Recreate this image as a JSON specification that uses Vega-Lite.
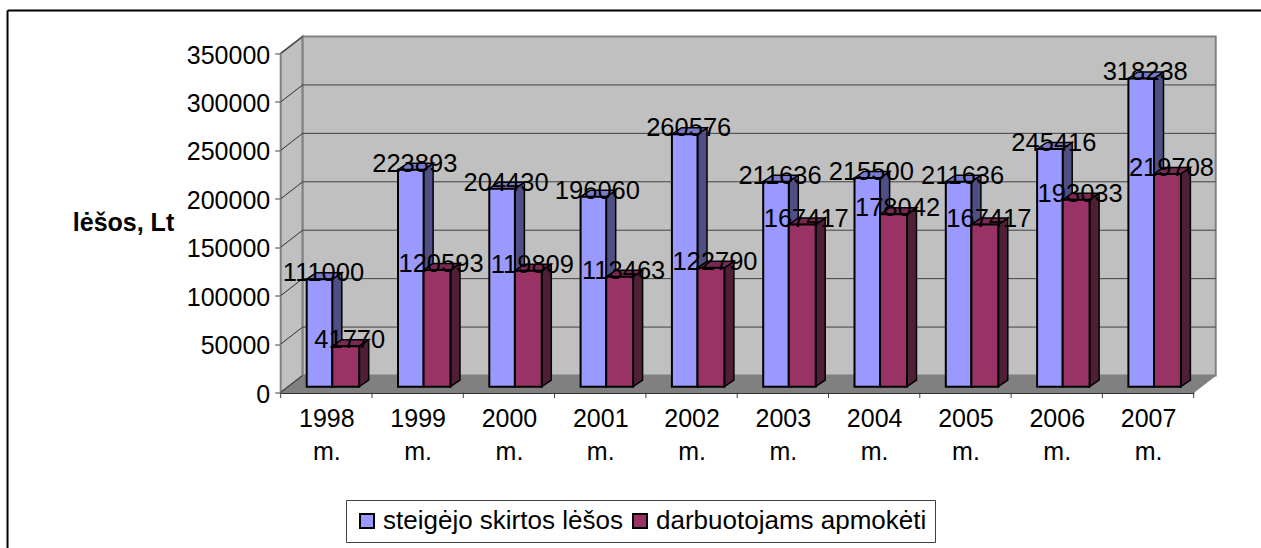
{
"$schema":"https://vega.github.io/schema/vega-lite/v6.json",
"width":913,"height":339,
"autosize":{"type":"none"},
"padding":{"left":280.7,"top":53.5,"right":67.3,"bottom":155.5},
"background":"white",
"config":{"view":{"stroke":null},"text":{"font":"Liberation Sans"},"axis":{"labelFont":"Liberation Sans","titleFont":"Liberation Sans"},"legend":{"labelFont":"Liberation Sans"}},
"datasets":{
"bars":[
{"year":1998,"series":"steigėjo skirtos lėšos","value":111000},{"year":1998,"series":"darbuotojams apmokėti","value":41770},
{"year":1999,"series":"steigėjo skirtos lėšos","value":223893},{"year":1999,"series":"darbuotojams apmokėti","value":120593},
{"year":2000,"series":"steigėjo skirtos lėšos","value":204430},{"year":2000,"series":"darbuotojams apmokėti","value":119809},
{"year":2001,"series":"steigėjo skirtos lėšos","value":196060},{"year":2001,"series":"darbuotojams apmokėti","value":113463},
{"year":2002,"series":"steigėjo skirtos lėšos","value":260576},{"year":2002,"series":"darbuotojams apmokėti","value":122790},
{"year":2003,"series":"steigėjo skirtos lėšos","value":211636},{"year":2003,"series":"darbuotojams apmokėti","value":167417},
{"year":2004,"series":"steigėjo skirtos lėšos","value":215500},{"year":2004,"series":"darbuotojams apmokėti","value":178042},
{"year":2005,"series":"steigėjo skirtos lėšos","value":211636},{"year":2005,"series":"darbuotojams apmokėti","value":167417},
{"year":2006,"series":"steigėjo skirtos lėšos","value":245416},{"year":2006,"series":"darbuotojams apmokėti","value":193033},
{"year":2007,"series":"steigėjo skirtos lėšos","value":318238},{"year":2007,"series":"darbuotojams apmokėti","value":219708}
],
"grid":[{"v":0},{"v":50000},{"v":100000},{"v":150000},{"v":200000},{"v":250000},{"v":300000},{"v":350000}],
"leftWall":[{"x":1997.5,"lo":0,"hi":350000},{"x":1997.741,"lo":17550,"hi":367550}],
"floor":[{"y":0,"a":1997.5,"b":2007.5},{"y":17550,"a":1997.741,"b":2007.741}],
"back":[{"a":1997.741,"b":2007.741,"lo":17550,"hi":367550}],
"ticks":[{"x":1997.5},{"x":1998.5},{"x":1999.5},{"x":2000.5},{"x":2001.5},{"x":2002.5},{"x":2003.5},{"x":2004.5},{"x":2005.5},{"x":2006.5},{"x":2007.5}]
},
"data":{"name":"bars"},
"transform":[
{"calculate":"[0,1]","as":"t"},{"flatten":["t"]},
{"calculate":"datum.series==='steigėjo skirtos lėšos'","as":"isA"},
{"calculate":"datum.year-0.5+(datum.isA?26:51.6)/91.3","as":"xl"},
{"calculate":"datum.year-0.5+(datum.isA?51.6:78.5)/91.3","as":"xr"},
{"calculate":"datum.value+6000","as":"top"},
{"calculate":"datum.xr+datum.t*0.104","as":"sx"},
{"calculate":"datum.xl+datum.t*0.104","as":"tl"},
{"calculate":"datum.top+datum.t*6700","as":"sy"},
{"calculate":"6000+datum.t*6700","as":"sb"},
{"calculate":"(datum.xl+datum.xr)/2+4/91.3","as":"lx"}
],
"layer":[
{"data":{"name":"leftWall"},"mark":{"type":"area","fill":"#C0C0C0","stroke":"#808080","strokeWidth":2,"clip":false},
 "encoding":{"x":{"field":"x","type":"quantitative","scale":{"domain":[1997.5,2007.5],"nice":false,"zero":false},
   "axis":{"values":[1998,1999,2000,2001,2002,2003,2004,2005,2006,2007],"format":"d","grid":false,"ticks":false,"domain":true,"domainColor":"#303030","domainWidth":2,"title":null,"labelFontSize":25,"labelColor":"black","labelPadding":14,"labelExpr":"[datum.label,'m.']","labelLineHeight":33,"labelOverlap":false,"labelFlush":false}},
 "y":{"field":"lo","type":"quantitative","scale":{"domain":[0,350000],"nice":false,"zero":false},
   "axis":{"values":[0,50000,100000,150000,200000,250000,300000,350000],"format":"d","grid":false,"domainColor":"#505050","domainWidth":2,"tickColor":"#404040","tickSize":6,"labelFontSize":25,"labelColor":"black","labelPadding":5,"labelOffset":1.5,"title":"lėšos, Lt","titleAngle":0,"titleFontSize":25,"titleFontWeight":"bold","titleX":-157.7,"titleY":177,"titleColor":"black","titleAlign":"center","titleBaseline":"alphabetic"}},"y2":{"field":"hi"}}},
{"data":{"name":"back"},"mark":{"type":"rect","fill":"#C0C0C0","stroke":"#808080","strokeWidth":2,"clip":false},
 "encoding":{"x":{"field":"a","type":"quantitative"},"x2":{"field":"b"},"y":{"field":"lo","type":"quantitative"},"y2":{"field":"hi"}}},
{"data":{"name":"floor"},"mark":{"type":"area","orient":"horizontal","fill":"#808080","stroke":"#808080","clip":false},
 "encoding":{"y":{"field":"y","type":"quantitative"},"x":{"field":"a","type":"quantitative"},"x2":{"field":"b"}}},
{"data":{"name":"grid"},"transform":[{"filter":"datum.v>0&&datum.v<350000"},{"calculate":"datum.v+17550","as":"vb"}],"mark":{"type":"rule","color":"#404040","strokeWidth":1,"clip":false},
 "encoding":{"x":{"datum":1997.741,"type":"quantitative"},"x2":{"datum":2007.741},"y":{"field":"vb","type":"quantitative"}}},
{"data":{"name":"grid"},"transform":[{"calculate":"datum.v+17550","as":"vb"}],"mark":{"type":"rule","color":"#303030","strokeWidth":1,"clip":false},
 "encoding":{"x":{"datum":1997.5,"type":"quantitative"},"x2":{"datum":1997.741},"y":{"field":"v","type":"quantitative"},"y2":{"field":"vb"}}},
{"data":{"name":"ticks"},"mark":{"type":"rule","color":"#404040","strokeWidth":1,"clip":false},
 "encoding":{"x":{"field":"x","type":"quantitative"},"y":{"datum":0,"type":"quantitative"},"y2":{"datum":-5800}}},
{"transform":[{"filter":"datum.isA"}],"mark":{"type":"area","fill":"#4F4F85","stroke":"black","strokeWidth":1.5,"clip":false},
 "encoding":{"x":{"field":"sx","type":"quantitative"},"y":{"field":"sy","type":"quantitative"},"y2":{"field":"sb"},"detail":{"field":"year"}}},
{"transform":[{"filter":"datum.isA"}],"mark":{"type":"area","orient":"horizontal","fill":"#7A7ACC","stroke":"black","strokeWidth":1.5,"clip":false},
 "encoding":{"y":{"field":"sy","type":"quantitative"},"x":{"field":"tl","type":"quantitative"},"x2":{"field":"sx"},"detail":{"field":"year"}}},
{"transform":[{"filter":"!datum.isA"}],"mark":{"type":"area","fill":"#4F1E37","stroke":"black","strokeWidth":1.5,"clip":false},
 "encoding":{"x":{"field":"sx","type":"quantitative"},"y":{"field":"sy","type":"quantitative"},"y2":{"field":"sb"},"detail":{"field":"year"}}},
{"transform":[{"filter":"!datum.isA"}],"mark":{"type":"area","orient":"horizontal","fill":"#7A2952","stroke":"black","strokeWidth":1.5,"clip":false},
 "encoding":{"y":{"field":"sy","type":"quantitative"},"x":{"field":"tl","type":"quantitative"},"x2":{"field":"sx"},"detail":{"field":"year"}}},
{"transform":[{"filter":"datum.t===0"}],"mark":{"type":"rect","stroke":"black","strokeWidth":2,"clip":false},
 "encoding":{
  "x":{"field":"xl","type":"quantitative"},
  "x2":{"field":"xr"},
  "y":{"field":"top","type":"quantitative"},
  "y2":{"datum":6000},
  "fill":{"field":"series","type":"nominal","scale":{"domain":["steigėjo skirtos lėšos","darbuotojams apmokėti"],"range":["#9999FF","#993366"]},
   "legend":{"title":null,"orient":"none","legendX":65.3,"legendY":446.5,"direction":"horizontal","columns":2,"strokeColor":"#404040","fillColor":"white","padding":8,"labelFontSize":26,"labelColor":"black","symbolType":"square","symbolSize":196,"symbolStrokeColor":"black","symbolStrokeWidth":2,"symbolOpacity":1,"columnPadding":4,"labelOffset":3,"labelLimit":320}}
 }},
{"transform":[{"filter":"datum.t===0"}],"mark":{"type":"text","fontSize":25.5,"color":"black","baseline":"alphabetic","align":"center","clip":false,"yOffset":2},
 "encoding":{"x":{"field":"lx","type":"quantitative"},"y":{"field":"top","type":"quantitative"},"text":{"field":"value","type":"nominal"}}},
{"data":{"values":[{"a":1994.508,"b":2008.25,"y":394400}]},"mark":{"type":"rule","color":"black","strokeWidth":2,"clip":false},
 "encoding":{"x":{"field":"a","type":"quantitative"},"x2":{"field":"b"},"y":{"field":"y","type":"quantitative"}}},
{"data":{"values":[{"x":1994.508,"a":394400,"b":-160500}]},"mark":{"type":"rule","color":"black","strokeWidth":2,"clip":false},
 "encoding":{"x":{"field":"x","type":"quantitative"},"y":{"field":"a","type":"quantitative"},"y2":{"field":"b"}}}
]
}
